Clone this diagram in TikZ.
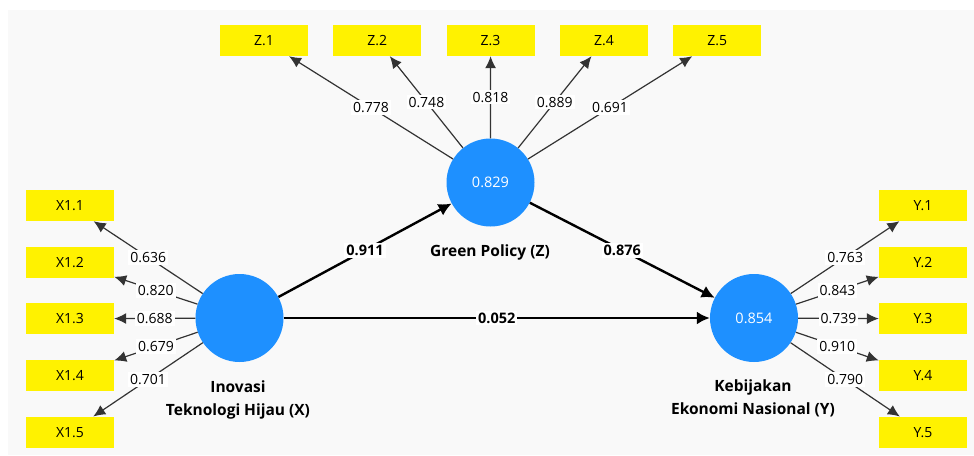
\documentclass[tikz,border=0pt]{standalone}
\usepackage{fontspec}
\setmainfont{Open Sans}
\usetikzlibrary{arrows.meta}

\definecolor{latentblue}{RGB}{30,144,255}
\definecolor{panelgray}{RGB}{249,249,249}

\begin{document}
\begin{tikzpicture}[
    x=1pt, y=-1pt,
    latent/.style={circle, fill=latentblue, minimum size=88pt, inner sep=0pt, text=white, font=\fontsize{14.5}{16}\selectfont},
    item/.style={fill=yellow, minimum width=88pt, minimum height=31pt, inner sep=0pt, font=\fontsize{14}{16}\selectfont},
    title/.style={font=\bfseries\fontsize{15.5}{23}\selectfont, align=center},
    loading/.style={draw=black!80, line width=1.2pt, -{Latex[length=12pt,width=11pt]}},
    coef/.style={draw, line width=2.4pt, -{Latex[length=13pt,width=13pt]}},
    val/.style={fill=white, inner xsep=2pt, inner ysep=2pt, font=\fontsize{14}{16}\selectfont},
    bval/.style={val, font=\bfseries\fontsize{14.5}{16}\selectfont}
]
    % Canvas
    \fill[white] (0,0) rectangle (974,455);
    \fill[panelgray] (8,10) rectangle (974,455);
    \useasboundingbox (0,0) rectangle (974,455);

    % Latent variables
    \node[latent] (X) at (239.5,318) {};
    \node[latent] (Z) at (490.5,182.5) {0.829};
    \node[latent] (Y) at (754,318) {0.854};

    \node[title] (Xt) at (238,399.5) {Inovasi\\Teknologi Hijau (X)};
    \node[title] (Zt) at (490,252) {Green Policy (Z)};
    \node[title] (Yt) at (753,398.5) {Kebijakan\\Ekonomi Nasional (Y)};

    % Indicators
    \node[item] (x1) at (70,205.5) {X1.1};
    \node[item] (x2) at (70,262.2) {X1.2};
    \node[item] (x3) at (70,318.8) {X1.3};
    \node[item] (x4) at (70,375.5) {X1.4};
    \node[item] (x5) at (70,432.2) {X1.5};

    \node[item] (z1) at (264,40.5) {Z.1};
    \node[item] (z2) at (377.3,40.5) {Z.2};
    \node[item] (z3) at (490.6,40.5) {Z.3};
    \node[item] (z4) at (604,40.5) {Z.4};
    \node[item] (z5) at (717.3,40.5) {Z.5};

    \node[item] (y1) at (923,205.5) {Y.1};
    \node[item] (y2) at (923,262.2) {Y.2};
    \node[item] (y3) at (923,318.8) {Y.3};
    \node[item] (y4) at (923,375.5) {Y.4};
    \node[item] (y5) at (923,432.2) {Y.5};

    % Outer loadings
    \draw[loading] (X) -- node[val] {0.636} (x1);
    \draw[loading] (X) -- node[val] {0.820} (x2);
    \draw[loading] (X) -- node[val] {0.688} (x3);
    \draw[loading] (X) -- node[val] {0.679} (x4);
    \draw[loading] (X) -- node[val] {0.701} (x5);

    \draw[loading] (Z) -- node[val] {0.778} (z1);
    \draw[loading] (Z) -- node[val] {0.748} (z2);
    \draw[loading] (Z) -- node[val] {0.818} (z3);
    \draw[loading] (Z) -- node[val] {0.889} (z4);
    \draw[loading] (Z) -- node[val] {0.691} (z5);

    \draw[loading] (Y) -- node[val] {0.763} (y1);
    \draw[loading] (Y) -- node[val] {0.843} (y2);
    \draw[loading] (Y) -- node[val] {0.739} (y3);
    \draw[loading] (Y) -- node[val] {0.910} (y4);
    \draw[loading] (Y) -- node[val] {0.790} (y5);

    % Path coefficients
    \draw[coef] (X) -- node[bval] {0.911} (Z);
    \draw[coef] (Z) -- node[bval] {0.876} (Y);
    \draw[coef] (X) -- node[bval] {0.052} (Y);

\end{tikzpicture}
\end{document}
